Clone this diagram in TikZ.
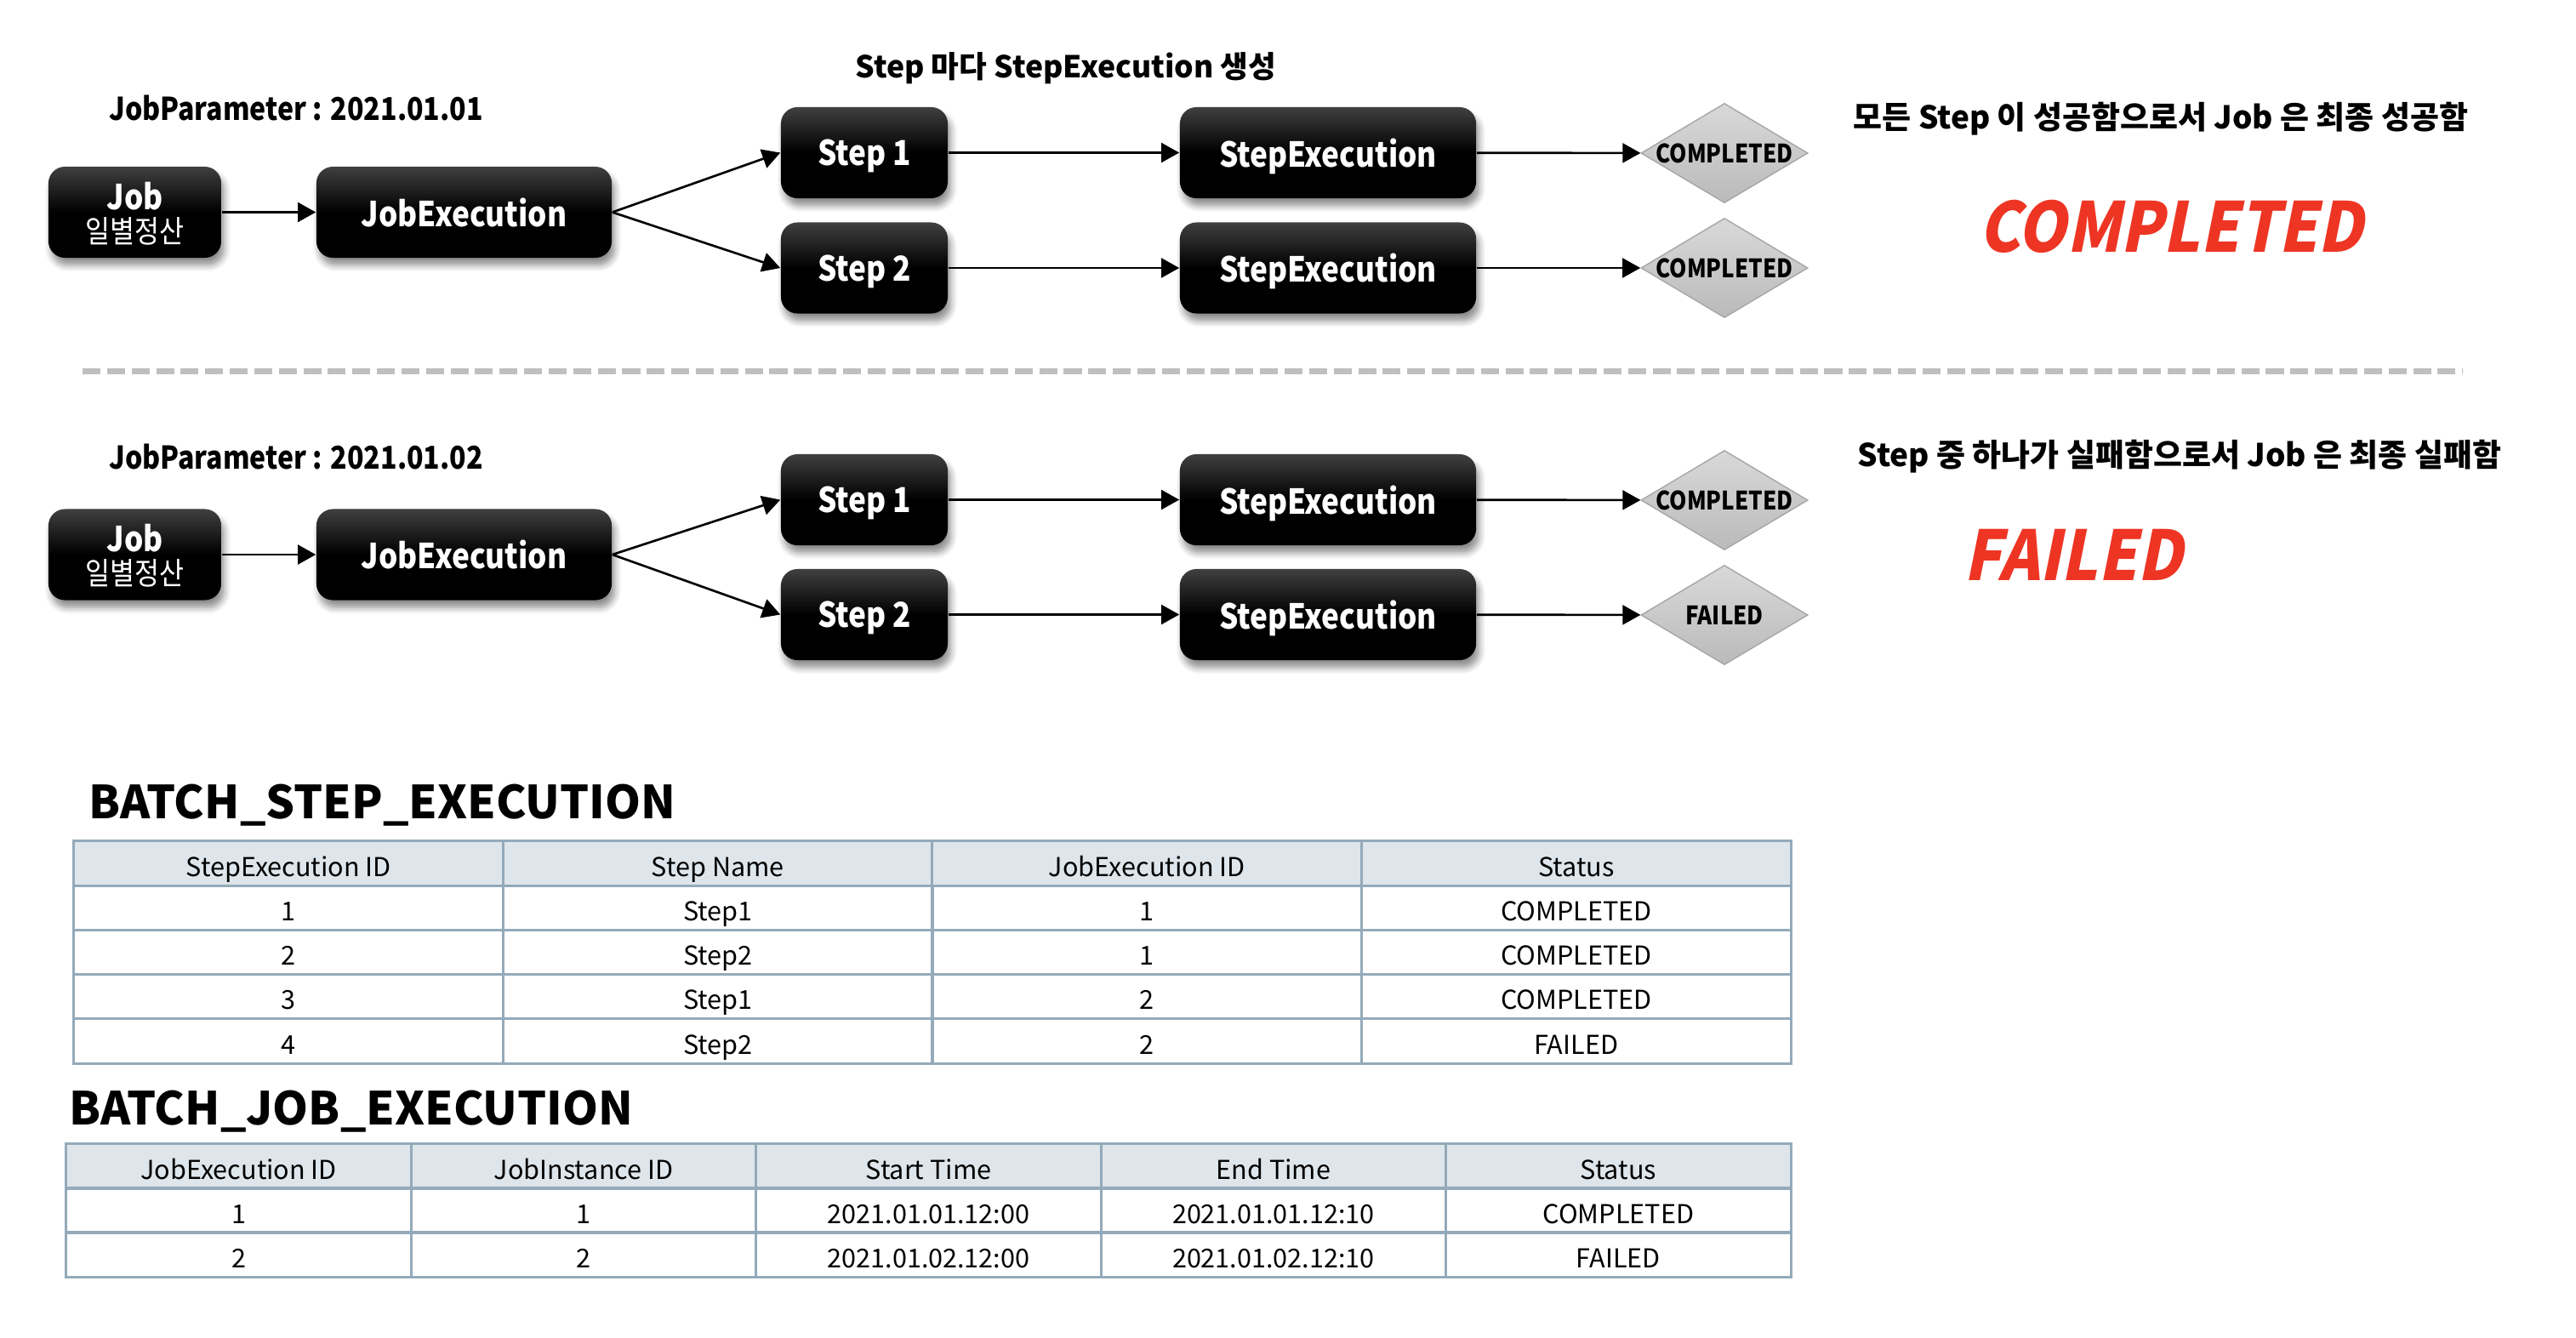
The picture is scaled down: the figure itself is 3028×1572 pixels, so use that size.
\documentclass[tikz,border=0pt]{standalone}
\usepackage{fontspec}
\setmainfont{Noto Sans CJK KR}
\newfontfamily\narrowfam{Noto Sans CJK KR}[FakeStretch=0.87]
\newfontfamily\slantfam{Noto Sans CJK KR}[FakeSlant=0.2,FakeStretch=0.9]
\usetikzlibrary{arrows.meta,shapes.geometric,shadows.blur}
\definecolor{redtxt}{HTML}{EE3524}
\definecolor{tline}{HTML}{94AABA}
\definecolor{thead}{HTML}{DEE6EB}
\tikzset{b/.style={rounded corners=5.5pt,top color=black!75,bottom color=black,middle color=black,text=white,font=\fontsize{11.5}{11}\selectfont\narrowfam\bfseries,text depth=0pt,minimum height=1.07cm,blur shadow={shadow xshift=1pt,shadow yshift=-2.5pt,shadow opacity=45,shadow blur steps=6}},
 d/.style={diamond,draw=black!35,top color=black!15,bottom color=black!27,minimum width=1.96cm,minimum height=1.17cm,inner sep=0pt,font=\fontsize{8.5}{9}\selectfont\narrowfam\bfseries},
 flow/.style={-{Triangle[length=6pt,width=6.5pt]},line width=.75pt},
 hd/.style={font=\fontsize{10.5}{12}\selectfont\bfseries,inner sep=0pt},
 big/.style={text=redtxt,font=\fontsize{23}{24}\selectfont\slantfam\bfseries,inner sep=0pt},
 tt/.style={font=\fontsize{15.2}{16}\selectfont\bfseries,inner sep=0pt,anchor=base west},
 tb/.style={draw=tline,line width=.85pt,minimum height=.5225cm,inner sep=0pt,text height=.86em,text depth=0pt,font=\fontsize{8.7}{9}\selectfont},
 th/.style={tb,fill=thead},
 sep/.style={draw=black!25,line width=2pt,dash pattern=on 6pt off 2.2pt}}
\begin{document}
\begin{tikzpicture}[x=0.01cm,y=-0.01cm]
\useasboundingbox (0,0) rectangle (3028,1572);
% first run: 2021.01.01
\node[hd,font=\fontsize{10.5}{12}\selectfont\narrowfam\bfseries] (pa) at (348,127) {JobParameter : 2021.01.01};
\node[hd,font=\fontsize{10.1}{12}\selectfont\bfseries] (note) at (1253,80) {Step 마다 StepExecution 생성};
\node[b,align=center,minimum width=2.03cm] (job1) at (158.5,249.5) {Job\\{\mdseries\fontsize{10.3}{10}\selectfont 일별정산}};
\node[b,minimum width=3.47cm] (je1) at (545.5,249.5) {JobExecution};
\node[b,minimum width=1.96cm] (sa1) at (1016,179.5) {Step 1};\node[b,minimum width=1.96cm] (sb1) at (1016,315) {Step 2};
\node[b,minimum width=3.48cm] (xa1) at (1561,179.5) {StepExecution};\node[b,minimum width=3.48cm] (xb1) at (1561,315) {StepExecution};
\node[d] (da1) at (2027,180) {\makebox[0pt]{COMPLETED}};\node[d] (db1) at (2027,315) {\makebox[0pt]{COMPLETED}};
\draw[flow] (job1)--(je1);
\draw[flow] (je1.east)--(sa1.west);\draw[flow] (je1.east)--(sb1.west);
\draw[flow] (sa1)--(xa1);\draw[flow] (xa1)--(da1);
\draw[flow] (sb1)--(xb1);\draw[flow] (xb1)--(db1);
\node[hd] (ra) at (2540,140) {모든 Step 이 성공함으로서 Job 은 최종 성공함};
\node[big] (oka) at (2552,266) {COMPLETED};
\draw[sep] (97,436.5)--(2895,436.5);
% second run: 2021.01.02
\node[hd,font=\fontsize{10.5}{12}\selectfont\narrowfam\bfseries] (pb) at (348,537) {JobParameter : 2021.01.02};
\node[b,align=center,minimum width=2.03cm] (job2) at (158.5,652) {Job\\{\mdseries\fontsize{10.3}{10}\selectfont 일별정산}};
\node[b,minimum width=3.47cm] (je2) at (545.5,652) {JobExecution};
\node[b,minimum width=1.96cm] (sa2) at (1016,587.5) {Step 1};\node[b,minimum width=1.96cm] (sb2) at (1016,722.5) {Step 2};
\node[b,minimum width=3.48cm] (xa2) at (1561,587.5) {StepExecution};\node[b,minimum width=3.48cm] (xb2) at (1561,722.5) {StepExecution};
\node[d] (da2) at (2027,588) {\makebox[0pt]{COMPLETED}};\node[d] (db2) at (2027,723) {\makebox[0pt]{FAILED}};
\draw[flow] (job2)--(je2);
\draw[flow] (je2.east)--(sa2.west);\draw[flow] (je2.east)--(sb2.west);
\draw[flow] (sa2)--(xa2);\draw[flow] (xa2)--(da2);
\draw[flow] (sb2)--(xb2);\draw[flow] (xb2)--(db2);
\node[hd] (rb) at (2562,537) {Step 중 하나가 실패함으로서 Job 은 최종 실패함};
\node[big] (okb) at (2437,652) {FAILED};
% tables
\node[tt] (tsx) at (104,962) {BATCH\_STEP\_EXECUTION};
\foreach \t [count=\k from 0] in {StepExecution ID,Step Name,JobExecution ID,Status}
 \node[th,minimum width=5.045cm] (sh\k) at (339.25+504.5*\k,1015) {\t};
\foreach \p/\q/\s/\u [count=\r] in {1/Step1/1/COMPLETED,2/Step2/1/COMPLETED,3/Step1/2/COMPLETED,4/Step2/2/FAILED}{
 \node[tb,minimum width=5.045cm] (s\r a) at (339.25,1015+52.25*\r) {\p};
 \node[tb,minimum width=5.045cm] (s\r b) at (843.75,1015+52.25*\r) {\q};
 \node[tb,minimum width=5.045cm] (s\r c) at (1348.25,1015+52.25*\r) {\s};
 \node[tb,minimum width=5.045cm] (s\r d) at (1852.75,1015+52.25*\r) {\u};}
\node[tt] (tjx) at (81,1322) {BATCH\_JOB\_EXECUTION};
\foreach \t [count=\k from 0] in {JobExecution ID,JobInstance ID,Start Time,End Time,Status}
 \node[th,minimum width=4.054cm] (jh\k) at (280.7+405.4*\k,1371) {\t};
\foreach \p/\q/\s/\u/\w [count=\r] in {1/1/2021.01.01.12:00/2021.01.01.12:10/COMPLETED,2/2/2021.01.02.12:00/2021.01.02.12:10/FAILED}{
 \node[tb,minimum width=4.054cm] (j\r a) at (280.7,1371+52*\r) {\p};
 \node[tb,minimum width=4.054cm] (j\r b) at (686.1,1371+52*\r) {\q};
 \node[tb,minimum width=4.054cm] (j\r c) at (1091.5,1371+52*\r) {\s};
 \node[tb,minimum width=4.054cm] (j\r d) at (1496.9,1371+52*\r) {\u};
 \node[tb,minimum width=4.054cm] (j\r e) at (1902.3,1371+52*\r) {\w};}
\end{tikzpicture}
\end{document}
